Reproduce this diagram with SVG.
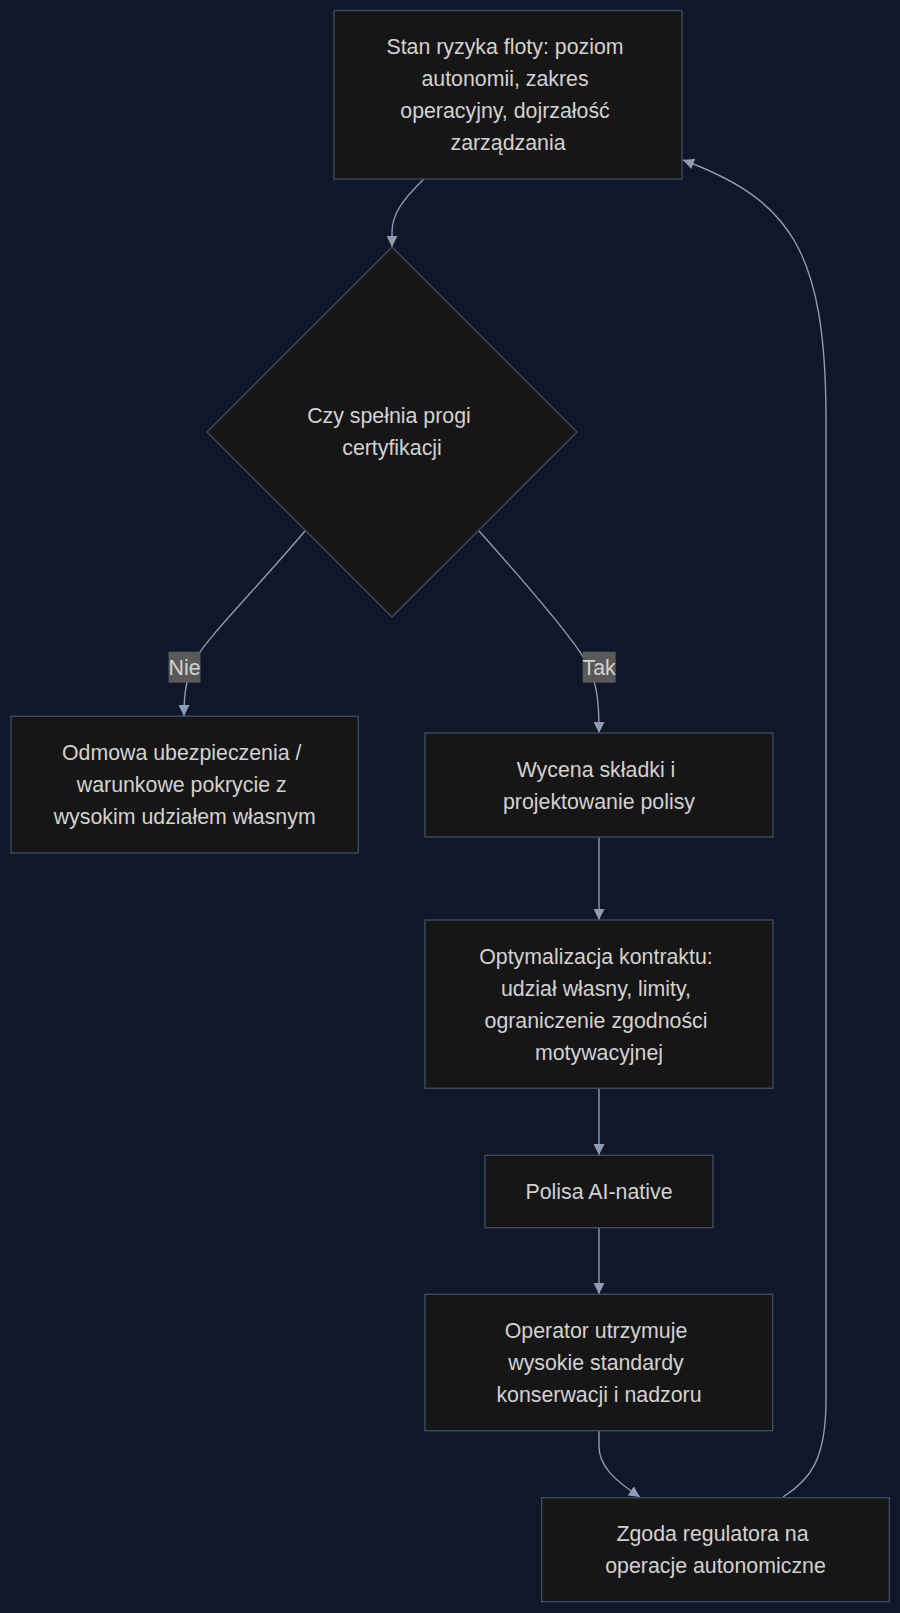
<svg xmlns="http://www.w3.org/2000/svg" width="900" height="1613" viewBox="0 0 900 1613">
<defs>
<style>
.node{fill:#161616;stroke:#3d4b60;stroke-width:1.4}
.t{font-family:"Liberation Sans",Arial,sans-serif;font-size:21.33px;fill:#d2d2d2;text-anchor:middle}
.e{fill:none;stroke:#8d9cb4;stroke-width:1.4}
.lbl{fill:#595959}
</style>
<marker id="arr" viewBox="0 0 10 10" refX="10" refY="5" markerWidth="11" markerHeight="11" markerUnits="userSpaceOnUse" orient="auto">
<path d="M0,0 L10,5 L0,10 z" fill="#8d9cb4"/>
</marker>
</defs>
<rect width="900" height="1613" fill="#0f1729"/>
<g id="connectors">
<path class="e" d="M424,179 C402,200 392,215 392,232 L392,247" marker-end="url(#arr)"/>
<path class="e" d="M305,531 C255,590 205,640 195,660 C186,680 184,692 184,716" marker-end="url(#arr)"/>
<path class="e" d="M479,531 C530,588 575,640 588,665 C597,685 599,700 599,733" marker-end="url(#arr)"/>
<path class="e" d="M599,837 L599,920" marker-end="url(#arr)"/>
<path class="e" d="M599,1088 L599,1155" marker-end="url(#arr)"/>
<path class="e" d="M599,1228 L599,1294" marker-end="url(#arr)"/>
<path class="e" d="M599,1431 L599,1446 C599,1466 614,1480 640,1497" marker-end="url(#arr)"/>
<path class="e" d="M783,1497 C810,1480 826,1460 826,1400 L826,420 C826,250 790,200 683,160" marker-end="url(#arr)"/>
<rect class="lbl" x="168.5" y="651.7" width="32" height="31"/>
<text class="t" x="184.5" y="674.5">Nie</text>
<rect class="lbl" x="582.7" y="651.7" width="33" height="31"/>
<text class="t" x="599.2" y="674.5">Tak</text>
</g>
<g id="n_stan">
<rect class="node" x="334" y="10.5" width="348" height="168.5"/>
<text class="t" x="505" y="54.2">Stan ryzyka floty: poziom</text>
<text class="t" x="505" y="86.2">autonomii, zakres</text>
<text class="t" x="505" y="118.2">operacyjny, dojrzałość</text>
<text class="t" x="508" y="150.2">zarządzania</text>
</g>
<g id="n_czy">
<polygon class="node" points="392,247 577,432 392,617 207,432"/>
<text class="t" x="389" y="423">Czy spełnia progi</text>
<text class="t" x="392" y="455">certyfikacji</text>
</g>
<g id="n_odmowa">
<rect class="node" x="11" y="716.3" width="347.3" height="136.7"/>
<text class="t" x="181.7" y="760.2">Odmowa ubezpieczenia /</text>
<text class="t" x="181.7" y="792.2">warunkowe pokrycie z</text>
<text class="t" x="184.7" y="824.2">wysokim udziałem własnym</text>
</g>
<g id="n_wycena">
<rect class="node" x="425" y="733" width="348" height="104"/>
<text class="t" x="596" y="776.5">Wycena składki i</text>
<text class="t" x="599" y="808.5">projektowanie polisy</text>
</g>
<g id="n_optym">
<rect class="node" x="425" y="920" width="348" height="168.3"/>
<text class="t" x="596" y="963.7">Optymalizacja kontraktu:</text>
<text class="t" x="596" y="995.7">udział własny, limity,</text>
<text class="t" x="596" y="1027.7">ograniczenie zgodności</text>
<text class="t" x="599" y="1059.7">motywacyjnej</text>
</g>
<g id="n_polisa">
<rect class="node" x="485" y="1155.3" width="228" height="72.4"/>
<text class="t" x="599" y="1199">Polisa AI-native</text>
</g>
<g id="n_operator">
<rect class="node" x="425" y="1294.3" width="347.7" height="136.4"/>
<text class="t" x="596" y="1338">Operator utrzymuje</text>
<text class="t" x="596" y="1370">wysokie standardy</text>
<text class="t" x="599" y="1402">konserwacji i nadzoru</text>
</g>
<g id="n_zgoda">
<rect class="node" x="541.7" y="1497.7" width="347.6" height="104"/>
<text class="t" x="712.5" y="1541.2">Zgoda regulatora na</text>
<text class="t" x="715.5" y="1573.2">operacje autonomiczne</text>
</g>
</svg>
